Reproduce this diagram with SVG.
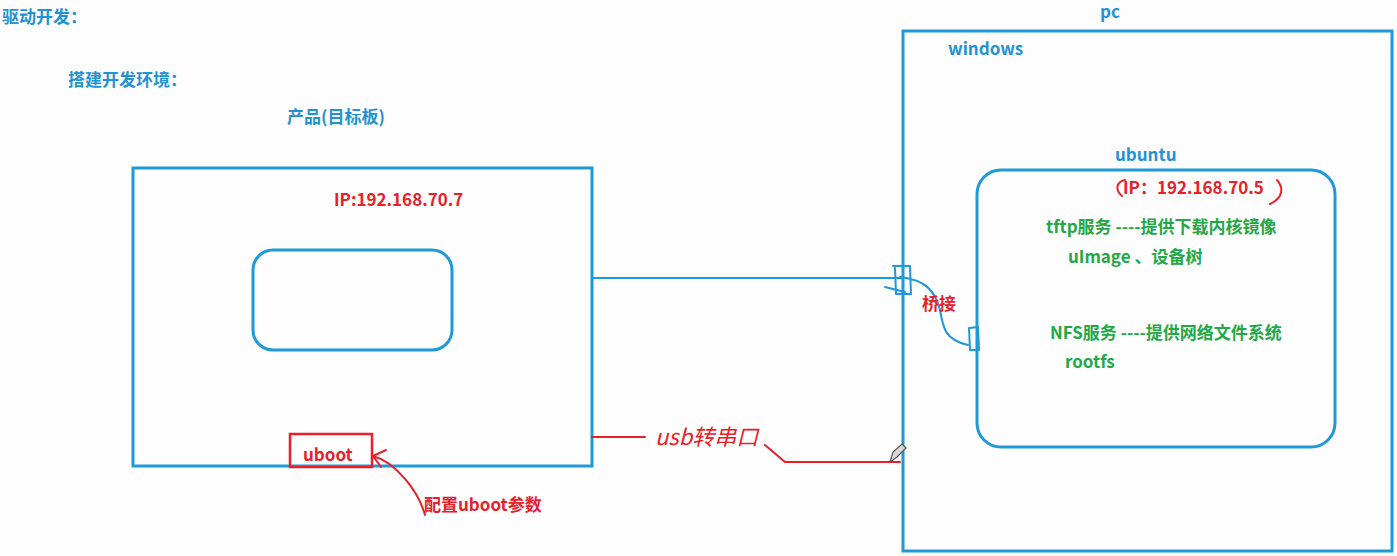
<svg xmlns="http://www.w3.org/2000/svg" width="1397" height="556" viewBox="0 0 1397 556">
<style>
.b{fill:none;stroke:#1f9ad8;stroke-width:3}
.t{font-family:"Noto Sans CJK SC","Liberation Sans",sans-serif;font-weight:bold;font-size:17px}
.bl{fill:#1f93d3}
.rd{fill:#e8202a}
.gr{fill:#23a845}
.rl{fill:none;stroke:#e8202a;stroke-width:2;stroke-linecap:round;stroke-linejoin:round}
.bw{fill:none;stroke:#1f9ad8;stroke-width:2;stroke-linecap:round;stroke-linejoin:round}
</style>
<rect width="1397" height="556" fill="#fdfdfe"/>
<g id="titles">
<text class="t bl" x="2" y="23">驱动开发：</text>
<text class="t bl" x="68" y="86">搭建开发环境：</text>
</g>
<g id="board">
<text class="t bl" x="287" y="123">产品(目标板)</text>
<rect class="b" x="133" y="168" width="459" height="298"/>
<rect class="b" x="253" y="250" width="199" height="100" rx="20"/>
<text class="t rd" x="334" y="206">IP:192.168.70.7</text>
</g>
<g id="uboot">
<rect x="290" y="434" width="82" height="33" fill="none" stroke="#e8202a" stroke-width="2.5"/>
<text class="t rd" x="303" y="461">uboot</text>
</g>
<g id="uboot-note">
<text class="t rd" x="424" y="511">配置uboot参数</text>
</g>
<g id="pc">
<text class="t bl" x="1100" y="18">pc</text>
<rect class="b" x="903" y="31" width="489" height="520"/>
<text class="t bl" x="948" y="55">windows</text>
</g>
<g id="ubuntu">
<text class="t bl" x="1115" y="161">ubuntu</text>
<rect class="b" x="977" y="170" width="358" height="277" rx="24"/>
<text class="t rd" x="1123" y="194">IP：192.168.70.5</text>
<path class="rl" d="M1125,180 C1116,182 1115,190 1122,196"/>
<path class="rl" d="M1277,180 C1284,188 1283,198 1270,204"/>
<text class="t gr" x="1046" y="233">tftp服务 ----提供下载内核镜像</text>
<text class="t gr" x="1068" y="263">uImage 、设备树</text>
<text class="t gr" x="1050" y="339">NFS服务 ----提供网络文件系统</text>
<text class="t gr" x="1065" y="368">rootfs</text>
</g>
<g id="connectors">
<line x1="592" y1="278" x2="903" y2="278" stroke="#1f9ad8" stroke-width="2"/>
<path class="bw" d="M893,266 L910,266 L911,294 L896,294 L895,268 M885,287 L905,292 M900,277 C925,280 935,290 940,310 C943,328 945,340 968,345"/>
<path class="bw" d="M969,328 L978,327 L979,350 L970,350 Z"/>
<text class="t rd" x="922" y="310">桥接</text>
<path class="rl" d="M592,437 L645,437"/>
<text x="655" y="445" font-family="'Noto Sans CJK SC',sans-serif" font-size="22" fill="#e8202a" font-style="italic">usb转串口</text>
<path class="rl" d="M765,445 L785,462 L900,462"/>
<path d="M890,462 L893,452 L902,444 L906,448 L897,457 Z" fill="#d8d8d8" stroke="#555" stroke-width="1.2"/>
<path class="rl" d="M425,515 C418,490 395,462 373,456 M373,456 L386,450 M373,456 L381,467"/>
</g>
</svg>
